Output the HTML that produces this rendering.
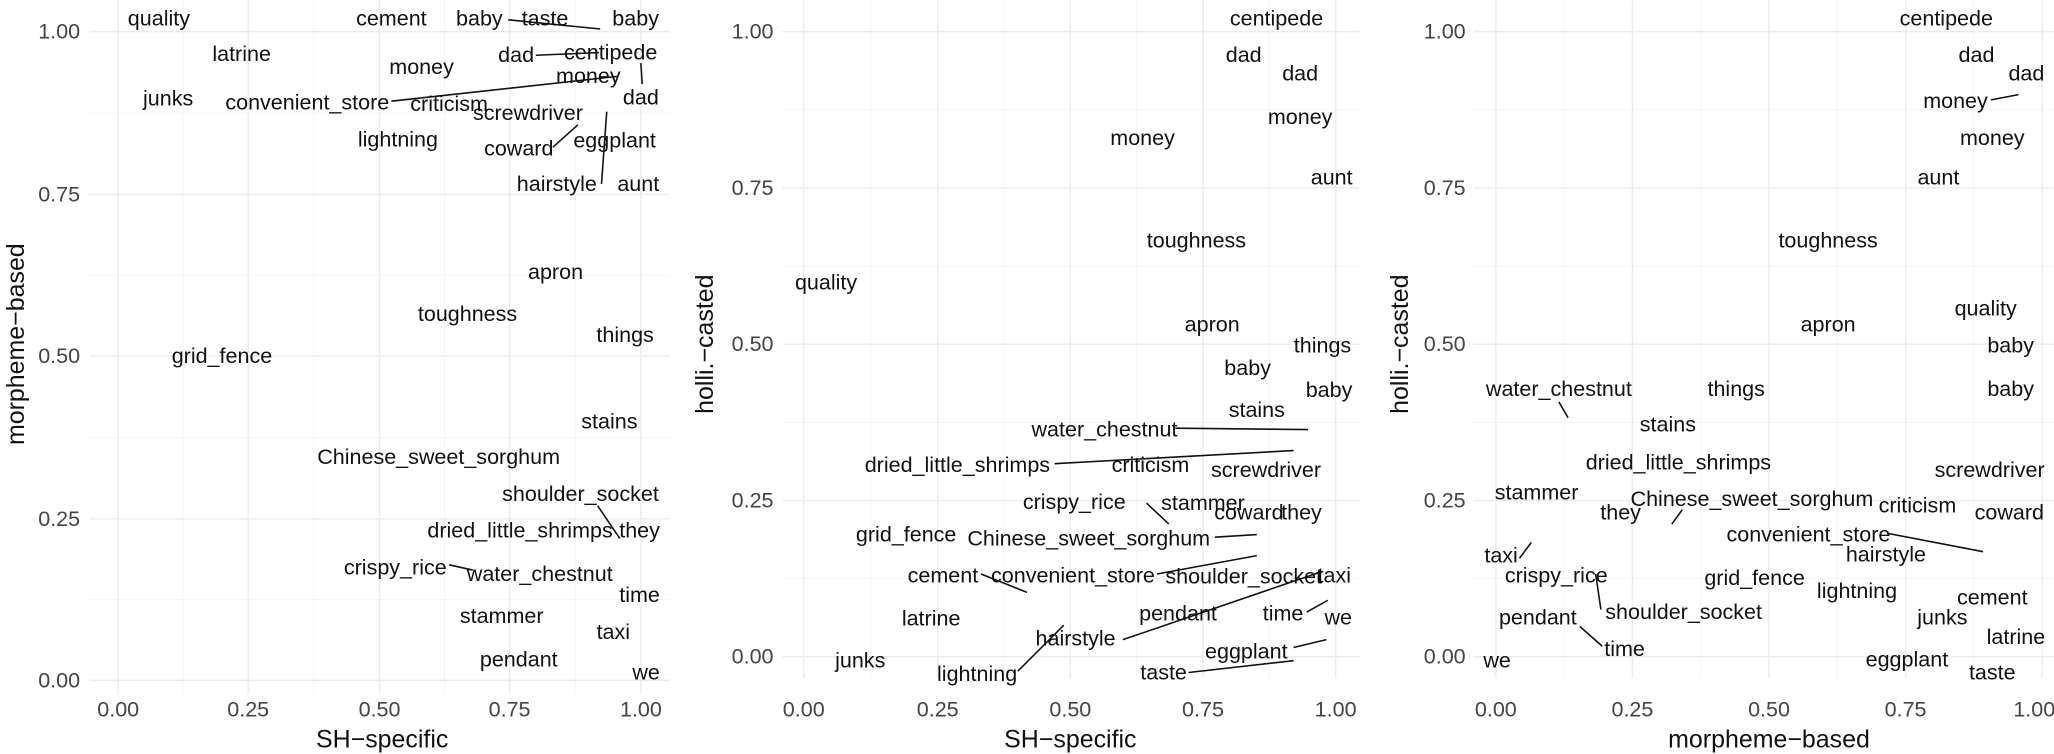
<!DOCTYPE html>
<html><head><meta charset="utf-8"><style>
html,body{margin:0;padding:0;background:#fff;}
svg{display:block;}
text{font-family:"Liberation Sans",Arial,sans-serif;}
.l{font-size:16.4px;fill:#111;text-anchor:middle;dominant-baseline:central;}
.t{font-size:16.4px;fill:#444;dominant-baseline:central;}
.ti{font-size:19px;fill:#111;text-anchor:middle;dominant-baseline:central;}
.M{stroke:#ebebeb;stroke-width:1.1;}
.m{stroke:#f2f2f2;stroke-width:0.6;}
.s{stroke:#111;stroke-width:1.2;fill:none;}
</style></head><body>
<svg width="2054" height="754" viewBox="0 0 1564 574" xmlns="http://www.w3.org/2000/svg">
<rect width="1564" height="574" fill="#fff"/>

<!-- Panel 1 -->
<g>
<g class="m">
<line x1="139.5" y1="0" x2="139.5" y2="528"/><line x1="239" y1="0" x2="239" y2="528"/><line x1="338.5" y1="0" x2="338.5" y2="528"/><line x1="438" y1="0" x2="438" y2="528"/>
<line x1="68" y1="86" x2="510" y2="86"/><line x1="68" y1="209.5" x2="510" y2="209.5"/><line x1="68" y1="333" x2="510" y2="333"/><line x1="68" y1="456.5" x2="510" y2="456.5"/>
</g>
<g class="M">
<line x1="90" y1="0" x2="90" y2="528"/><line x1="189" y1="0" x2="189" y2="528"/><line x1="289" y1="0" x2="289" y2="528"/><line x1="388" y1="0" x2="388" y2="528"/><line x1="488" y1="0" x2="488" y2="528"/>
<line x1="68" y1="24" x2="510" y2="24"/><line x1="68" y1="148" x2="510" y2="148"/><line x1="68" y1="271" x2="510" y2="271"/><line x1="68" y1="395" x2="510" y2="395"/><line x1="68" y1="518" x2="510" y2="518"/>
</g>
<g class="t" text-anchor="end">
<text x="61" y="24">1.00</text><text x="61" y="148">0.75</text><text x="61" y="271">0.50</text><text x="61" y="395">0.25</text><text x="61" y="518">0.00</text>
</g>
<g class="t" text-anchor="middle">
<text x="90" y="540">0.00</text><text x="189" y="540">0.25</text><text x="289" y="540">0.50</text><text x="388" y="540">0.75</text><text x="488" y="540">1.00</text>
</g>
<text class="ti" x="291" y="563">SH−specific</text>
<text class="ti" transform="translate(12,262) rotate(-90)">morpheme−based</text>
<g class="s">
<line x1="387" y1="15" x2="457" y2="22"/><line x1="408" y1="42" x2="456" y2="40"/><line x1="298" y1="77" x2="471" y2="58"/>
<line x1="488" y1="48" x2="489" y2="64"/><line x1="421" y1="112" x2="440" y2="95"/><line x1="458" y1="140" x2="462" y2="85"/>
<line x1="455" y1="385" x2="472" y2="410"/><line x1="342" y1="430" x2="360" y2="434"/>
</g>
<g class="l">
<text x="121" y="14">quality</text><text x="298" y="14">cement</text><text x="365" y="14">baby</text><text x="415" y="14">taste</text><text x="484" y="14">baby</text>
<text x="184" y="41">latrine</text><text x="393" y="42">dad</text><text x="465" y="40">centipede</text><text x="321" y="51">money</text><text x="448" y="58">money</text>
<text x="128" y="75">junks</text><text x="234" y="78">convenient_store</text><text x="342" y="79">criticism</text><text x="402" y="86">screwdriver</text><text x="488" y="74">dad</text>
<text x="303" y="106">lightning</text><text x="395" y="113">coward</text><text x="468" y="107">eggplant</text><text x="424" y="140">hairstyle</text><text x="486" y="140">aunt</text>
<text x="423" y="207">apron</text><text x="356" y="239">toughness</text><text x="476" y="255">things</text><text x="169" y="271">grid_fence</text><text x="464" y="321">stains</text>
<text x="334" y="348">Chinese_sweet_sorghum</text><text x="442" y="376">shoulder_socket</text><text x="396" y="404">dried_little_shrimps</text><text x="487" y="404">they</text>
<text x="301" y="432">crispy_rice</text><text x="411" y="437">water_chestnut</text><text x="487" y="453">time</text><text x="382" y="469">stammer</text><text x="467" y="481">taxi</text>
<text x="395" y="502">pendant</text><text x="492" y="512">we</text>
</g>
</g>

<!-- Panel 2 -->
<g>
<g class="m">
<line x1="663" y1="0" x2="663" y2="516"/><line x1="764.5" y1="0" x2="764.5" y2="516"/><line x1="865.5" y1="0" x2="865.5" y2="516"/><line x1="966.5" y1="0" x2="966.5" y2="516"/>
<line x1="596" y1="83.5" x2="1035" y2="83.5"/><line x1="596" y1="202.5" x2="1035" y2="202.5"/><line x1="596" y1="321.5" x2="1035" y2="321.5"/><line x1="596" y1="440.5" x2="1035" y2="440.5"/>
</g>
<g class="M">
<line x1="612" y1="0" x2="612" y2="516"/><line x1="714" y1="0" x2="714" y2="516"/><line x1="815" y1="0" x2="815" y2="516"/><line x1="916" y1="0" x2="916" y2="516"/><line x1="1017" y1="0" x2="1017" y2="516"/>
<line x1="596" y1="24" x2="1035" y2="24"/><line x1="596" y1="143" x2="1035" y2="143"/><line x1="596" y1="262" x2="1035" y2="262"/><line x1="596" y1="381" x2="1035" y2="381"/><line x1="596" y1="500" x2="1035" y2="500"/>
</g>
<g class="t" text-anchor="end">
<text x="589" y="24">1.00</text><text x="589" y="143">0.75</text><text x="589" y="262">0.50</text><text x="589" y="381">0.25</text><text x="589" y="500">0.00</text>
</g>
<g class="t" text-anchor="middle">
<text x="612" y="540">0.00</text><text x="714" y="540">0.25</text><text x="815" y="540">0.50</text><text x="916" y="540">0.75</text><text x="1017" y="540">1.00</text>
</g>
<text class="ti" x="815" y="563">SH−specific</text>
<text class="ti" transform="translate(537,262) rotate(-90)">holli.−casted</text>
<g class="s">
<line x1="895" y1="326" x2="996" y2="327"/><line x1="803" y1="353" x2="985" y2="343"/><line x1="873" y1="383" x2="890" y2="399"/>
<line x1="925" y1="409" x2="957" y2="407"/><line x1="747" y1="437" x2="782" y2="451"/><line x1="881" y1="437" x2="957" y2="423"/>
<line x1="855" y1="487" x2="1007" y2="435"/><line x1="995" y1="466" x2="1011" y2="457"/><line x1="985" y1="493" x2="1010" y2="487"/>
<line x1="775" y1="511" x2="810" y2="476"/><line x1="905" y1="512" x2="985" y2="503"/>
</g>
<g class="l">
<text x="972" y="14">centipede</text><text x="947" y="42">dad</text><text x="990" y="56">dad</text><text x="870" y="105">money</text><text x="990" y="89">money</text>
<text x="1014" y="135">aunt</text><text x="911" y="183">toughness</text><text x="629" y="215">quality</text><text x="923" y="247">apron</text><text x="1007" y="263">things</text>
<text x="950" y="280">baby</text><text x="1012" y="297">baby</text><text x="957" y="312">stains</text><text x="841" y="327">water_chestnut</text>
<text x="729" y="354">dried_little_shrimps</text><text x="876" y="354">criticism</text><text x="964" y="358">screwdriver</text>
<text x="818" y="382">crispy_rice</text><text x="916" y="383">stammer</text><text x="951" y="390">coward</text><text x="991" y="390">they</text>
<text x="690" y="407">grid_fence</text><text x="829" y="410">Chinese_sweet_sorghum</text><text x="718" y="438">cement</text><text x="817" y="438">convenient_store</text>
<text x="947" y="439">shoulder_socket</text><text x="1016" y="438">taxi</text><text x="897" y="467">pendant</text><text x="977" y="467">time</text><text x="1019" y="470">we</text>
<text x="709" y="471">latrine</text><text x="819" y="486">hairstyle</text><text x="949" y="496">eggplant</text><text x="655" y="503">junks</text><text x="744" y="513">lightning</text><text x="886" y="512">taste</text>
</g>
</g>

<!-- Panel 3 -->
<g>
<g class="m">
<line x1="1191" y1="0" x2="1191" y2="516"/><line x1="1295" y1="0" x2="1295" y2="516"/><line x1="1399" y1="0" x2="1399" y2="516"/><line x1="1503" y1="0" x2="1503" y2="516"/>
<line x1="1122" y1="83.5" x2="1564" y2="83.5"/><line x1="1122" y1="202.5" x2="1564" y2="202.5"/><line x1="1122" y1="321.5" x2="1564" y2="321.5"/><line x1="1122" y1="440.5" x2="1564" y2="440.5"/>
</g>
<g class="M">
<line x1="1139" y1="0" x2="1139" y2="516"/><line x1="1243" y1="0" x2="1243" y2="516"/><line x1="1347" y1="0" x2="1347" y2="516"/><line x1="1451" y1="0" x2="1451" y2="516"/><line x1="1555" y1="0" x2="1555" y2="516"/>
<line x1="1122" y1="24" x2="1564" y2="24"/><line x1="1122" y1="143" x2="1564" y2="143"/><line x1="1122" y1="262" x2="1564" y2="262"/><line x1="1122" y1="381" x2="1564" y2="381"/><line x1="1122" y1="500" x2="1564" y2="500"/>
</g>
<g class="t" text-anchor="end">
<text x="1116" y="24">1.00</text><text x="1116" y="143">0.75</text><text x="1116" y="262">0.50</text><text x="1116" y="381">0.25</text><text x="1116" y="500">0.00</text>
</g>
<g class="t" text-anchor="middle">
<text x="1139" y="540">0.00</text><text x="1243" y="540">0.25</text><text x="1347" y="540">0.50</text><text x="1451" y="540">0.75</text><text x="1549" y="540">1.00</text>
</g>
<text class="ti" x="1347" y="563">morpheme−based</text>
<text class="ti" transform="translate(1066,262) rotate(-90)">holli.−casted</text>
<g class="s">
<line x1="1516" y1="76" x2="1537" y2="72"/><line x1="1187" y1="306" x2="1194" y2="318"/><line x1="1281" y1="388" x2="1273" y2="399"/>
<line x1="1437" y1="406" x2="1510" y2="420"/><line x1="1157" y1="425" x2="1166" y2="413"/><line x1="1215" y1="437" x2="1219" y2="464"/>
<line x1="1203" y1="477" x2="1220" y2="492"/>
</g>
<g class="l">
<text x="1482" y="14">centipede</text><text x="1505" y="42">dad</text><text x="1543" y="56">dad</text><text x="1489" y="77">money</text><text x="1517" y="105">money</text>
<text x="1476" y="135">aunt</text><text x="1392" y="183">toughness</text><text x="1512" y="235">quality</text><text x="1392" y="247">apron</text><text x="1531" y="263">baby</text>
<text x="1322" y="296">things</text><text x="1187" y="296">water_chestnut</text><text x="1531" y="296">baby</text><text x="1270" y="323">stains</text>
<text x="1278" y="352">dried_little_shrimps</text><text x="1515" y="358">screwdriver</text><text x="1170" y="375">stammer</text>
<text x="1334" y="380">Chinese_sweet_sorghum</text><text x="1460" y="385">criticism</text><text x="1234" y="390">they</text><text x="1530" y="390">coward</text>
<text x="1377" y="407">convenient_store</text><text x="1436" y="422">hairstyle</text><text x="1143" y="423">taxi</text><text x="1185" y="438">crispy_rice</text>
<text x="1336" y="440">grid_fence</text><text x="1282" y="466">shoulder_socket</text><text x="1414" y="450">lightning</text><text x="1517" y="455">cement</text>
<text x="1479" y="470">junks</text><text x="1171" y="470">pendant</text><text x="1535" y="485">latrine</text><text x="1237" y="494">time</text>
<text x="1452" y="502">eggplant</text><text x="1140" y="503">we</text><text x="1517" y="512">taste</text>
</g>
</g>
</svg>
</body></html>
